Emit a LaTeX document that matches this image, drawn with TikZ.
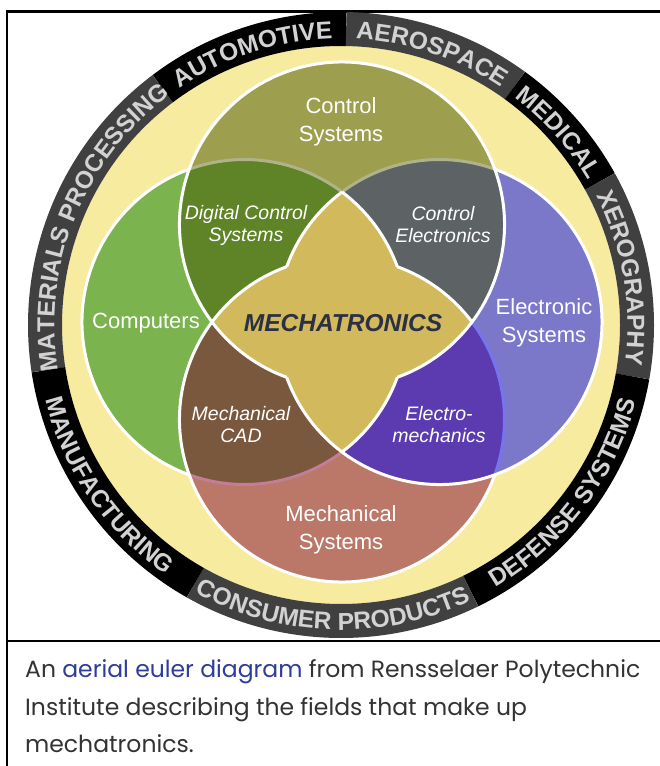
\documentclass[tikz,border=0pt]{standalone}
\usepackage{fontspec}
\setmainfont{Liberation Sans}
\newfontfamily\capfont{Poppins}
\usetikzlibrary{decorations.text}
\definecolor{bandyellow}{HTML}{F7EB9F}
\definecolor{ringgray}{HTML}{404040}
\definecolor{ringtxt}{HTML}{D2D2D2}
\definecolor{cT}{HTML}{9D9F4E}
\definecolor{cL}{HTML}{7BB34F}
\definecolor{cR}{HTML}{7B77C9}
\definecolor{cB}{HTML}{BB7868}
\definecolor{cTL}{HTML}{5E8427}
\definecolor{cTR}{HTML}{5D6364}
\definecolor{cBL}{HTML}{7A583D}
\definecolor{cBR}{HTML}{5C3BB1}
\definecolor{cM}{HTML}{D2B95B}
\definecolor{faintT}{HTML}{B0B28A}
\definecolor{pinkB}{HTML}{C07E98}
\definecolor{blueR}{HTML}{7575EE}
\definecolor{mechtxt}{HTML}{2B3045}
\definecolor{captext}{HTML}{333333}
\definecolor{linkblue}{HTML}{2E3D9A}
\newcommand{\ringfnt}{\fontsize{24.5}{24.5}\selectfont\bfseries}
\tikzset{
  ringtext/.style={decorate, decoration={text along path, text align=center,
     text={|\ringfnt\color{ringtxt}|#1}}},
  lab/.style={text=white, align=center, font=\fontsize{22}{28}\selectfont},
  ilab/.style={text=white, align=center, font=\fontsize{19.5}{22}\selectfont\itshape},
  wline/.style={draw=white, line width=3},
  capline/.style={anchor=base west, text=captext, font=\capfont\fontsize{23.5}{23.5}\selectfont, inner sep=0}
}
\begin{document}
\begin{tikzpicture}[x=1pt,y=1pt]
\useasboundingbox (0,0) rectangle (660,-766);
\fill[white] (0,0) rectangle (660,-766);
\def\rr{162.5}
\coordinate (C) at (341,-325);
\coordinate (T) at (342,-224.5);
\coordinate (B) at (342,-419.5);
\coordinate (L) at (244.5,-322);
\coordinate (R) at (439.5,-322);
% frame
\draw[line width=2.5] (7,-766) -- (7,-11.5) -- (662,-11.5);
\draw[line width=2.5] (7,-641) -- (662,-641);
% ring
\fill[bandyellow] (C) circle (279);
\foreach \a/\b/\c in {127/188.7/ringgray, 89/127/black, 54/89/ringgray, 29/54/black, -10/29/ringgray, -64/-10/black, -119.5/-64/ringgray, -171.3/-119.5/black}
  \draw[line width=34, draw=\c] ([shift={(\a:296)}]C) arc[start angle=\a, end angle=\b, radius=296];
% ring labels: outward (clockwise) and inward (counter-clockwise)
\foreach \m/\t in {157.85/MATERIALS PROCESSING, 108/AUTOMOTIVE, 71.5/AEROSPACE, 41.5/MEDICAL, 9.5/XEROGRAPHY}
  \path[ringtext=\t] ([shift={(\m+40:286.5)}]C) arc[start angle=\m+40, end angle=\m-40, radius=286.5];
\foreach \m/\t in {-37/DEFENSE SYSTEMS, -91.75/CONSUMER PRODUCTS, -145.4/MANUFACTURING}
  \path[ringtext=\t] ([shift={(\m-40:305)}]C) arc[start angle=\m-40, end angle=\m+40, radius=305];
% venn fills
\fill[cT] (T) circle (\rr);
\fill[cL] (L) circle (\rr);
\fill[cR] (R) circle (\rr);
\fill[cB] (B) circle (\rr);
\begin{scope}
  \clip (T) circle (\rr);
  \fill[cTL] (L) circle (\rr);
  \fill[cTR] (R) circle (\rr);
\end{scope}
\begin{scope}
  \clip (B) circle (\rr);
  \fill[cBL] (L) circle (\rr);
  \fill[cBR] (R) circle (\rr);
\end{scope}
\begin{scope}
  \clip (T) circle (\rr);
  \fill[cM] (B) circle (\rr);
\end{scope}
\begin{scope}
  \clip (L) circle (\rr);
  \fill[cM] (R) circle (\rr);
\end{scope}
% inner coloured arcs
\draw[draw=faintT, line width=3] ([shift={(53.13:\rr)}]L) arc[start angle=53.13, end angle=109.88, radius=\rr];
\draw[draw=faintT, line width=3] ([shift={(70.12:\rr)}]R) arc[start angle=70.12, end angle=126.87, radius=\rr];
\draw[draw=pinkB, line width=3] ([shift={(250.12:\rr)}]L) arc[start angle=250.12, end angle=306.87, radius=\rr];
\draw[draw=blueR, line width=3] ([shift={(-19.88:\rr)}]B) arc[start angle=-19.88, end angle=36.87, radius=\rr];
% white arcs
\draw[wline] ([shift={(-70.12:\rr)}]T) arc[start angle=-70.12, end angle=250.12, radius=\rr];
\draw[wline] ([shift={(109.88:\rr)}]B) arc[start angle=109.88, end angle=340.12, radius=\rr];
\draw[wline] ([shift={(36.87:\rr)}]B) arc[start angle=36.87, end angle=70.12, radius=\rr];
\draw[wline] ([shift={(109.88:\rr)}]L) arc[start angle=109.88, end angle=250.12, radius=\rr];
\draw[wline] ([shift={(19.88:\rr)}]L) arc[start angle=19.88, end angle=53.13, radius=\rr];
\draw[wline] ([shift={(-53.13:\rr)}]L) arc[start angle=-53.13, end angle=-19.88, radius=\rr];
\draw[wline] ([shift={(199.88:\rr)}]R) arc[start angle=199.88, end angle=430.12, radius=\rr];
\draw[wline] ([shift={(126.87:\rr)}]R) arc[start angle=126.87, end angle=160.12, radius=\rr];
% labels
\node[lab] (ctrl) at (341,-122) {Control\\Systems};
\node[lab] (comp) at (146,-323) {Computers};
\node[lab] (elec) at (544,-323) {Electronic\\Systems};
\node[lab] (mech) at (341,-530) {Mechanical\\Systems};
\node[ilab] (dcs) at (246,-225) {Digital Control\\Systems};
\node[ilab] (ce) at (443,-225) {Control\\Electronics};
\node[ilab] (mcad) at (241,-425) {Mechanical\\CAD};
\node[ilab] (em) at (439,-425) {Electro-\\mechanics};
\node[text=mechtxt, font=\fontsize{24.5}{24.5}\selectfont\bfseries\itshape] (mt) at (343,-323) {MECHATRONICS};
% caption
\node[capline] (c1) at (25,-677) {An \textcolor{linkblue}{aerial euler diagram} from Rensselaer Polytechnic};
\node[capline] (c2) at (25,-715) {Institute describing the fields that make up};
\node[capline] (c3) at (25,-752) {mechatronics.};
\end{tikzpicture}
\end{document}
